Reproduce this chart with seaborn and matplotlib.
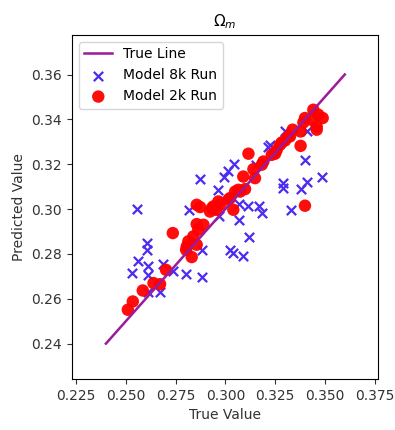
import numpy as np
import pandas as pd
import seaborn as sns
import matplotlib
matplotlib.use("Agg")
import matplotlib.pyplot as plt

# true line endpoints
true_x = [0.24, 0.36]
true_y = [0.24, 0.36]

# Model 8k Run (blue crosses)
x8 = [0.2555, 0.2873, 0.2995, 0.3015, 0.3044, 0.2963, 0.2819, 0.2970, 0.3069, 0.3116,
      0.3171, 0.3183, 0.3070, 0.3119, 0.3216, 0.3153, 0.3288, 0.3288, 0.3382, 0.3412,
      0.3487, 0.3402, 0.3330, 0.2605, 0.2608, 0.3024, 0.3040, 0.3087, 0.2881, 0.2563,
      0.2533, 0.2610, 0.2610, 0.2689, 0.2739, 0.2801, 0.2881, 0.2610, 0.2672, 0.3300,
      0.3224, 0.3409]
y8 = [0.3001, 0.3134, 0.3145, 0.3172, 0.3201, 0.3085, 0.2997, 0.2970, 0.3024, 0.3015,
      0.3015, 0.2982, 0.2952, 0.2875, 0.3279, 0.3198, 0.3116, 0.3094, 0.3089, 0.3119,
      0.3143, 0.3220, 0.2997, 0.2848, 0.2818, 0.2818, 0.2804, 0.2792, 0.2818, 0.2769,
      0.2715, 0.2744, 0.2707, 0.2756, 0.2722, 0.2710, 0.2699, 0.2628, 0.2628, 0.3346,
      0.3287, 0.3346]

# Model 2k Run (red circles)
x2 = [0.2510, 0.2535, 0.2585, 0.2639, 0.2672, 0.2702, 0.2736, 0.2803, 0.2806, 0.2814,
      0.2831, 0.2839, 0.2856, 0.2856, 0.2864, 0.2890, 0.2873, 0.2923, 0.2940, 0.2953,
      0.2965, 0.2973, 0.3015, 0.3024, 0.3040, 0.3049, 0.3065, 0.3074, 0.3090, 0.3099,
      0.3116, 0.3141, 0.3149, 0.3183, 0.3191, 0.3233, 0.3250, 0.3258, 0.3275, 0.3283,
      0.3300, 0.3316, 0.3325, 0.3338, 0.3378, 0.3378, 0.3392, 0.3400, 0.3400, 0.3434,
      0.3442, 0.3459, 0.3459, 0.3467, 0.3489, 0.2856, 0.2932]
y2 = [0.2551, 0.2588, 0.2637, 0.2670, 0.2665, 0.2729, 0.2893, 0.2818, 0.2833, 0.2856,
      0.2786, 0.2878, 0.2841, 0.2933, 0.2908, 0.2930, 0.3009, 0.2989, 0.3012, 0.2997,
      0.3034, 0.3019, 0.3042, 0.3049, 0.2997, 0.3078, 0.3086, 0.3078, 0.3145, 0.3089,
      0.3247, 0.3178, 0.3138, 0.3198, 0.3212, 0.3242, 0.3247, 0.3264, 0.3287, 0.3297,
      0.3306, 0.3324, 0.3324, 0.3354, 0.3346, 0.3282, 0.3386, 0.3406, 0.3015, 0.3398,
      0.3443, 0.3368, 0.3354, 0.3421, 0.3406, 0.3019, 0.3004]

fig = plt.figure(figsize=(3.95, 4.3), dpi=100)
ax = fig.add_axes([0.182, 0.119, 0.774, 0.80])

sns.lineplot(x=true_x, y=true_y, ax=ax, color="#9b1b9b", linewidth=1.8, label="True Line")
sns.scatterplot(x=x8, y=y8, ax=ax, marker="x", color="#4b2cf2", s=45, linewidth=1.6,
                label="Model 8k Run")
sns.scatterplot(x=x2, y=y2, ax=ax, marker="o", color="red", s=80, edgecolor="none",
                alpha=0.95, label="Model 2k Run")

ax.set_xlim(0.2229, 0.3765)
ax.set_ylim(0.2243, 0.3777)
ax.set_xticks([0.225, 0.250, 0.275, 0.300, 0.325, 0.350, 0.375])
ax.set_xticklabels(["0.225", "0.250", "0.275", "0.300", "0.325", "0.350", "0.375"])
ax.set_yticks([0.24, 0.26, 0.28, 0.30, 0.32, 0.34, 0.36])
ax.set_yticklabels(["0.24", "0.26", "0.28", "0.30", "0.32", "0.34", "0.36"])
ax.tick_params(labelsize=10, colors="#333333")
ax.set_xlabel("True Value", fontsize=10, color="#333333")
ax.set_ylabel("Predicted Value", fontsize=10, color="#333333")
ax.set_title(r"$\Omega_m$", fontsize=11)
ax.legend(loc="upper left", fontsize=10)

fig.savefig("out.png", dpi=100)
